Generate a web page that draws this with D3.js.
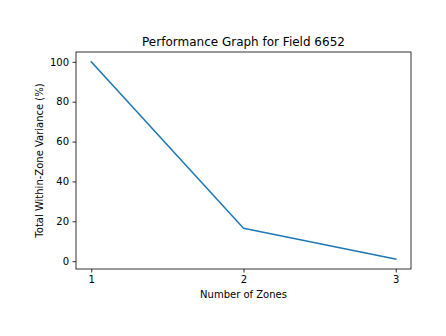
<!DOCTYPE html>
<html>
<head>
<meta charset="utf-8">
<script src="https://cdn.jsdelivr.net/npm/d3@7"></script>
<style>
  html, body { margin: 0; padding: 0; background: #fff; }
  svg { display: block; font-family: "DejaVu Sans", sans-serif; }
</style>
</head>
<body>
<svg id="chart" width="446" height="336"></svg>
<script>
// Number of zones and the total within-zone variance for each
const zones = [1, 2, 3];
const variance = [100, 16.5, 1.0];
const xTicks = [1, 2, 3];
const yTicks = [0, 20, 40, 60, 80, 100];

const titleText = "Performance Graph for Field 6652";
const xLabel = "Number of Zones";
const yLabel = "Total Within-Zone Variance (%)";

(function () {
  const svg = d3.select("#chart");
  const plotLeft = 76, plotRight = 411, plotTop = 52, plotBottom = 269;

  // Pad the data range by 5% on each side
  const xMin = d3.min(zones), xMax = d3.max(zones);
  const xPad = (xMax - xMin) * 0.05;
  const yMin = d3.min(variance), yMax = d3.max(variance);
  const yPad = (yMax - yMin) * 0.05;

  const x = d3.scaleLinear().domain([xMin - xPad, xMax + xPad]).range([plotLeft, plotRight]);
  const y = d3.scaleLinear().domain([yMin - yPad, yMax + yPad]).range([plotBottom, plotTop]);

  // Series line
  svg.append("path")
    .datum(zones.map((z, i) => [z, variance[i]]))
    .attr("fill", "none")
    .attr("stroke", "#1f77b4")
    .attr("stroke-width", 1.5)
    .attr("stroke-linejoin", "round")
    .attr("stroke-linecap", "square")
    .attr("d", d3.line().x(d => x(d[0])).y(d => y(d[1])));

  // Axes
  const xAxis = svg.append("g")
    .attr("transform", `translate(0,${plotBottom})`)
    .call(d3.axisBottom(x).tickValues(xTicks).tickFormat(d3.format("d")).tickSize(3.5).tickPadding(3.5));
  const yAxis = svg.append("g")
    .attr("transform", `translate(${plotLeft},0)`)
    .call(d3.axisLeft(y).tickValues(yTicks).tickFormat(d3.format("d")).tickSize(3.5).tickPadding(3.5));

  [xAxis, yAxis].forEach(g => {
    g.select(".domain").remove();
    g.selectAll(".tick line").attr("stroke", "#000").attr("stroke-width", 0.8);
    g.selectAll(".tick text").attr("fill", "#000").style("font-size", "10px")
      .style("font-family", "DejaVu Sans, sans-serif");
  });

  // Frame around the plot area
  svg.append("rect")
    .attr("x", plotLeft).attr("y", plotTop)
    .attr("width", plotRight - plotLeft).attr("height", plotBottom - plotTop)
    .attr("fill", "none").attr("stroke", "#000").attr("stroke-width", 0.8);

  // Title and axis labels
  svg.append("text")
    .attr("x", (plotLeft + plotRight) / 2).attr("y", plotTop - 6)
    .attr("text-anchor", "middle")
    .style("font-size", "12px")
    .text(titleText);

  svg.append("text")
    .attr("x", (plotLeft + plotRight) / 2).attr("y", 298)
    .attr("text-anchor", "middle")
    .style("font-size", "10px")
    .text(xLabel);

  svg.append("text")
    .attr("transform", `translate(43,${(plotTop + plotBottom) / 2}) rotate(-90)`)
    .attr("text-anchor", "middle")
    .style("font-size", "10px")
    .text(yLabel);
})();
</script>
</body>
</html>
